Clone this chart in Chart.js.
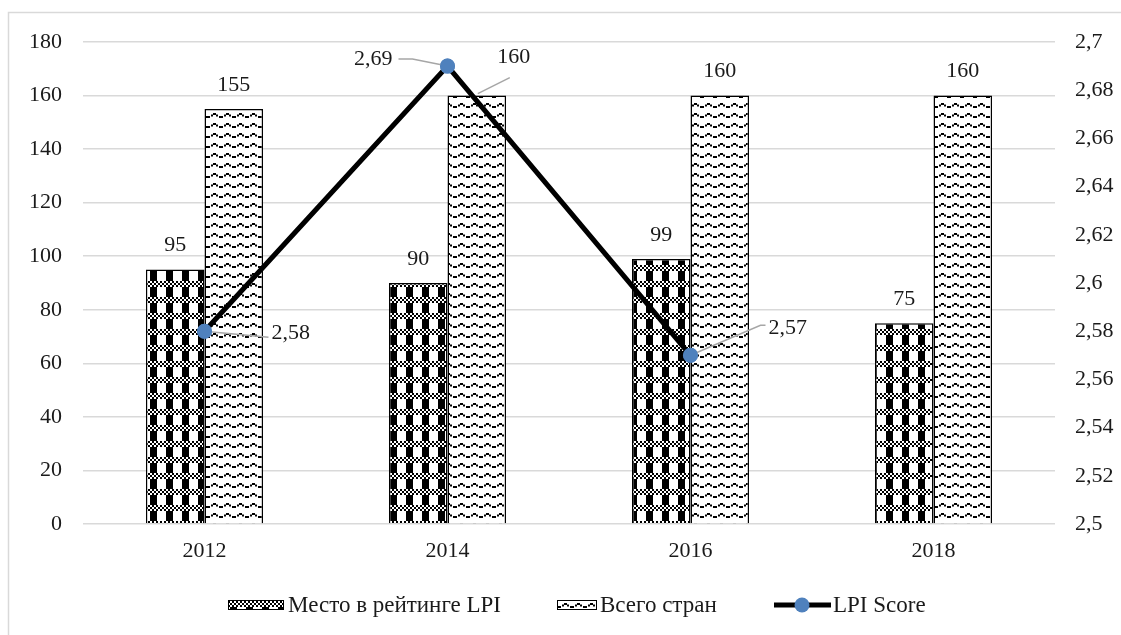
<!DOCTYPE html>
<html>
<head>
<meta charset="utf-8">
<script src="https://cdn.jsdelivr.net/npm/chart.js@4/dist/chart.umd.min.js"></script>
<style>
  html, body { margin: 0; padding: 0; background: #ffffff; }
  #wrap { position: relative; width: 1121px; height: 635px; }
</style>
</head>
<body>
<div id="wrap"><canvas id="c" width="1121" height="635"></canvas></div>
<script>
// ---- data ----
const years = ['2012', '2014', '2016', '2018'];
const rankLPI = [95, 90, 99, 75];
const totalCountries = [155, 160, 160, 160];
const lpiScore = [2.58, 2.69, 2.57, null];
const seriesNames = ['Место в рейтинге LPI', 'Всего стран', 'LPI Score'];
const leftTicks = [0, 20, 40, 60, 80, 100, 120, 140, 160, 180];
const rightTickLabels = ['2,5', '2,52', '2,54', '2,56', '2,58', '2,6', '2,62', '2,64', '2,66', '2,68', '2,7'];

const FONT = '"Liberation Serif", "Times New Roman", serif';
const FS = 22;
const LFS = 23;
const TXT = '#1a1a1a';

// ---- patterns ----
function makeCheckPattern() {
  const t = document.createElement('canvas');
  t.width = 16; t.height = 16;
  const g = t.getContext('2d');
  g.fillStyle = '#fff'; g.fillRect(0, 0, 16, 16);
  g.fillStyle = '#000';
  g.fillRect(6, 0, 7, 16);
  g.fillStyle = '#fff'; g.fillRect(0, 9, 16, 6);
  for (let y = 9; y < 15; y += 2) {
    for (let x = (((y - 9) / 2) % 2) * 2; x < 16; x += 4) {
      g.fillStyle = '#000'; g.fillRect(x, y, 2, 2);
    }
  }
  return g.createPattern(t, 'repeat');
}
function makeWavePattern() {
  const t = document.createElement('canvas');
  t.width = 13; t.height = 10;
  const g = t.getContext('2d');
  g.fillStyle = '#fff'; g.fillRect(0, 0, 13, 10);
  g.fillStyle = '#000';
  g.fillRect(0, 6, 2, 2);
  g.fillRect(3, 4.5, 2, 2);
  g.fillRect(5, 3, 3, 2);
  g.fillRect(8, 4.5, 2, 2);
  g.fillRect(11, 6, 2, 2);
  return g.createPattern(t, 'repeat');
}
const checkPat = makeCheckPattern();
const wavePat = makeWavePattern();

// label offset styles (positions only)
const barLabelStyle = {
  '1-1': { dx: 37, dy: -38, leader: [[1, -2], [33, -18]] }
};
const lineLabelStyle = [
  { align: 'left', dx: 67, dy: 2, leader: [[0, 0], [64, 6]] },
  { align: 'right', dx: -55, dy: -7, leader: [[0, 0], [-35, -7], [-49, -7]] },
  { align: 'left', dx: 78, dy: -27, leader: [[0, 0], [70, -30], [75, -30]] }
];

const fmtComma = v => String(v).replace('.', ',');

const labelsPlugin = {
  id: 'labelsPlugin',
  afterDatasetsDraw(chart) {
    const ctx = chart.ctx;
    ctx.save();
    ctx.font = FS + 'px ' + FONT;
    ctx.fillStyle = TXT;
    ctx.textBaseline = 'middle';
    [0, 1].forEach(di => {
      const meta = chart.getDatasetMeta(di);
      const data = chart.data.datasets[di].data;
      meta.data.forEach((el, j) => {
        const st = barLabelStyle[di + '-' + j];
        const dx = st ? st.dx : 0, dy = st ? st.dy : -24;
        if (st && st.leader) {
          ctx.strokeStyle = '#a6a6a6'; ctx.lineWidth = 1.5;
          ctx.beginPath();
          st.leader.forEach((p, k) => k ? ctx.lineTo(el.x + p[0], el.y + p[1]) : ctx.moveTo(el.x + p[0], el.y + p[1]));
          ctx.stroke();
        }
        ctx.textAlign = 'center';
        ctx.fillStyle = TXT;
        ctx.fillText(String(data[j]), el.x + dx, el.y + dy);
      });
    });
    ctx.restore();
  },
  afterDraw(chart) {
    const ctx = chart.ctx;
    ctx.save();
    ctx.font = FS + 'px ' + FONT;
    ctx.textBaseline = 'middle';
    const meta = chart.getDatasetMeta(2);
    meta.data.forEach((el, j) => {
      const v = lpiScore[j];
      if (v === null || el.skip) return;
      const st = lineLabelStyle[j];
      ctx.strokeStyle = '#a6a6a6'; ctx.lineWidth = 1.5;
      ctx.beginPath();
      st.leader.forEach((p, k) => k ? ctx.lineTo(el.x + p[0], el.y + p[1]) : ctx.moveTo(el.x + p[0], el.y + p[1]));
      ctx.stroke();
      ctx.fillStyle = '#4f81bd';
      ctx.beginPath(); ctx.arc(el.x, el.y, 7.5, 0, Math.PI * 2); ctx.fill();
      ctx.fillStyle = TXT;
      ctx.textAlign = st.align;
      ctx.fillText(fmtComma(v), el.x + st.dx, el.y + st.dy);
    });

    // legend
    const ly = 605;
    ctx.font = LFS + 'px ' + FONT;
    ctx.textAlign = 'left';
    ctx.fillStyle = checkPat; ctx.fillRect(228, ly - 5, 56, 10);
    ctx.strokeStyle = '#000'; ctx.lineWidth = 1; ctx.strokeRect(228.5, ly - 4.5, 55, 9);
    ctx.fillStyle = TXT; ctx.fillText(seriesNames[0], 288, ly + 1);
    ctx.fillStyle = wavePat; ctx.fillRect(557, ly - 5, 40, 10);
    ctx.strokeStyle = '#000'; ctx.strokeRect(557.5, ly - 4.5, 39, 9);
    ctx.fillStyle = TXT; ctx.fillText(seriesNames[1], 600, ly + 1);
    ctx.strokeStyle = '#000'; ctx.lineWidth = 5;
    ctx.beginPath(); ctx.moveTo(774, ly); ctx.lineTo(831, ly); ctx.stroke();
    ctx.fillStyle = '#4f81bd'; ctx.beginPath(); ctx.arc(802, ly, 7.5, 0, Math.PI * 2); ctx.fill();
    ctx.fillStyle = TXT; ctx.fillText(seriesNames[2], 833, ly + 1);

    // outer frame
    ctx.strokeStyle = '#d9d9d9'; ctx.lineWidth = 1.5;
    ctx.strokeRect(8.5, 12.5, 1200, 700);
    ctx.restore();
  }
};

new Chart(document.getElementById('c'), {
  data: {
    labels: years,
    datasets: [
      { type: 'bar', label: seriesNames[0], data: rankLPI, backgroundColor: checkPat, borderColor: '#000', borderWidth: 1.5, yAxisID: 'y', order: 2, categoryPercentage: 0.482, barPercentage: 1 },
      { type: 'bar', label: seriesNames[1], data: totalCountries, backgroundColor: wavePat, borderColor: '#000', borderWidth: 1.5, yAxisID: 'y', order: 2, categoryPercentage: 0.482, barPercentage: 1 },
      { type: 'line', label: seriesNames[2], data: lpiScore, borderColor: '#000', borderWidth: 5, pointRadius: 7.5, pointBackgroundColor: '#4f81bd', pointBorderWidth: 0, pointBorderColor: '#4f81bd', yAxisID: 'y1', order: 0, tension: 0, spanGaps: false }
    ]
  },
  options: {
    responsive: false,
    animation: false,
    devicePixelRatio: 1,
    layout: { padding: { top: 42, left: 0, right: 0, bottom: 0 } },
    plugins: { legend: { display: false }, tooltip: { enabled: false } },
    scales: {
      x: {
        grid: { display: false, drawTicks: false },
        border: { display: false },
        ticks: { padding: 14, color: TXT, font: { family: FONT, size: FS } },
        afterFit: s => { s.height = 111; }
      },
      y: {
        position: 'left', min: 0, max: 180,
        grid: { color: '#d9d9d9', lineWidth: 1.5, drawTicks: false },
        border: { display: false },
        afterBuildTicks: s => { s.ticks = leftTicks.map(v => ({ value: v })); },
        ticks: { padding: 21, color: TXT, font: { family: FONT, size: FS } },
        afterFit: s => { s.width = 83; }
      },
      y1: {
        position: 'right', min: 2.5, max: 2.7,
        grid: { display: false, drawTicks: false },
        border: { display: false },
        ticks: { stepSize: 0.02, padding: 20, color: TXT, font: { family: FONT, size: FS },
          callback: (v, i) => rightTickLabels[i] },
        afterFit: s => { s.width = 66; }
      }
    }
  },
  plugins: [labelsPlugin]
});
</script>
</body>
</html>
